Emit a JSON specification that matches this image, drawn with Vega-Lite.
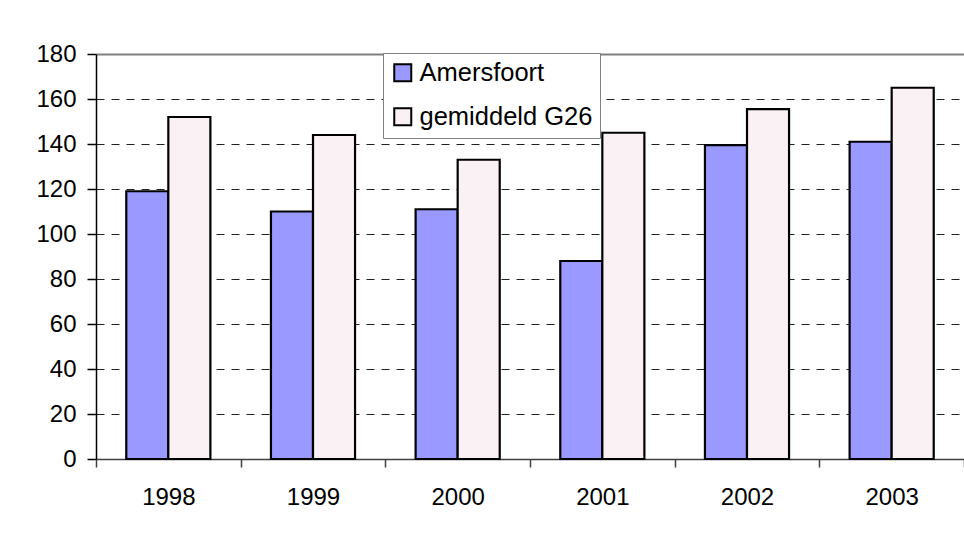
{
  "$schema": "https://vega.github.io/schema/vega-lite/v6.json",
  "width": 868,
  "height": 405,
  "autosize": {"type": "none"},
  "padding": {"left": 96, "top": 54, "right": 0, "bottom": 79},
  "background": "white",
  "config": {"view": {"stroke": null}, "font": "Liberation Sans"},
  "data": {
    "values": [
      {"year": "1998", "series": "Amersfoort", "value": 119},
      {"year": "1998", "series": "gemiddeld G26", "value": 152},
      {"year": "1999", "series": "Amersfoort", "value": 110},
      {"year": "1999", "series": "gemiddeld G26", "value": 144},
      {"year": "2000", "series": "Amersfoort", "value": 111},
      {"year": "2000", "series": "gemiddeld G26", "value": 133},
      {"year": "2001", "series": "Amersfoort", "value": 88},
      {"year": "2001", "series": "gemiddeld G26", "value": 145},
      {"year": "2002", "series": "Amersfoort", "value": 139.5},
      {"year": "2002", "series": "gemiddeld G26", "value": 155.5},
      {"year": "2003", "series": "Amersfoort", "value": 141},
      {"year": "2003", "series": "gemiddeld G26", "value": 165}
    ]
  },
  "mark": {"type": "bar", "stroke": "black", "strokeWidth": 2.2},
  "encoding": {
    "x": {
      "field": "year",
      "type": "nominal",
      "scale": {"paddingInner": 0, "paddingOuter": 0},
      "axis": {
        "title": null,
        "labelAngle": 0,
        "labelFontSize": 24,
        "labelColor": "black",
        "labelPadding": 18,
        "tickBand": "extent",
        "tickSize": 8,
        "tickColor": "#404040",
        "tickWidth": 1.5,
        "domainColor": "#404040",
        "domainWidth": 1.5
      }
    },
    "xOffset": {
      "field": "series",
      "type": "nominal",
      "sort": ["Amersfoort", "gemiddeld G26"],
      "scale": {"paddingInner": 0, "paddingOuter": 0.72}
    },
    "y": {
      "field": "value",
      "type": "quantitative",
      "scale": {"domain": [0, 180], "nice": false},
      "axis": {
        "title": null,
        "values": [0, 20, 40, 60, 80, 100, 120, 140, 160, 180],
        "labelFontSize": 24,
        "labelColor": "black",
        "labelPadding": 11,
        "tickSize": 9,
        "tickColor": "black",
        "tickWidth": 1.5,
        "domainColor": "black",
        "domainWidth": 1.5,
        "grid": true,
        "gridColor": {"condition": {"test": "datum.value === 180", "value": "#808080"}, "value": "#222222"},
        "gridDash": {"condition": {"test": "datum.value === 180", "value": []}, "value": [8, 7]},
        "gridWidth": {"condition": {"test": "datum.value === 180", "value": 2}, "value": 1}
      }
    },
    "color": {
      "field": "series",
      "type": "nominal",
      "scale": {"domain": ["Amersfoort", "gemiddeld G26"], "range": ["#9999FF", "#FAF1F4"]},
      "legend": {
        "title": null,
        "orient": "none",
        "legendX": 287,
        "legendY": -1,
        "direction": "vertical",
        "strokeColor": "#808080",
        "fillColor": "white",
        "padding": 7,
        "symbolType": "square",
        "symbolSize": 289,
        "symbolStrokeColor": "black",
        "symbolStrokeWidth": 2,
        "symbolOpacity": 1,
        "labelFontSize": 25.5,
        "labelLimit": 400,
        "labelColor": "black",
        "labelOffset": 4,
        "rowPadding": 17
      }
    }
  }
}
